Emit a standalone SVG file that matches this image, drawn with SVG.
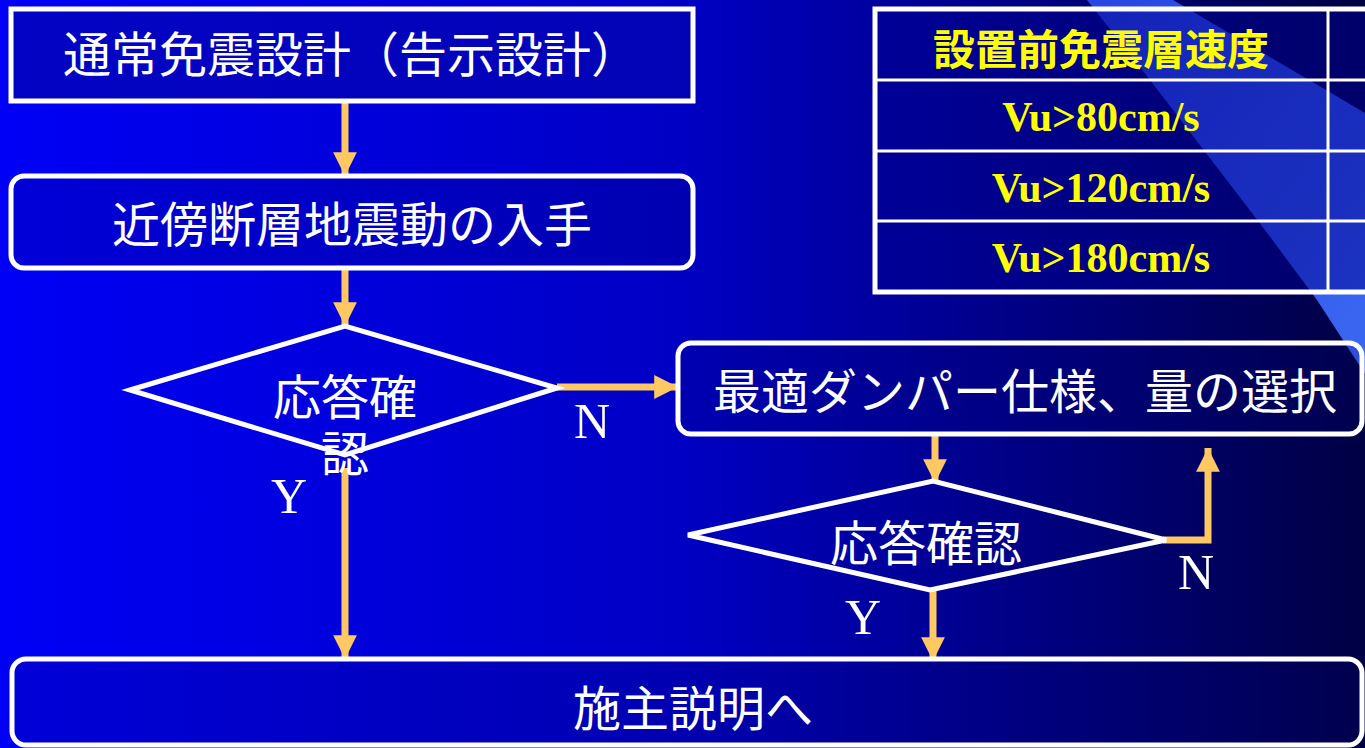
<svg xmlns="http://www.w3.org/2000/svg" width="1365" height="748" viewBox="0 0 1365 748">
<defs>
<linearGradient id="bg" x1="0" y1="0" x2="1" y2="0">
<stop offset="0" stop-color="#0000f6"/>
<stop offset="0.5" stop-color="#0000c4"/>
<stop offset="1" stop-color="#000044"/>
</linearGradient>
<linearGradient id="beam" x1="0" y1="0" x2="1" y2="1">
<stop offset="0" stop-color="#2846e2"/>
<stop offset="1" stop-color="#3a68f2"/>
</linearGradient>
<marker id="ah" viewBox="0 0 10 10" refX="10" refY="5" markerWidth="3.4" markerHeight="3.4" markerUnits="strokeWidth" orient="auto">
<path d="M0,0 L10,5 L0,10 Z" fill="#ffc862"/>
</marker>
<style>
.box{fill:#000070;fill-opacity:0.22;stroke:#ffffff;stroke-width:5}
.dia{fill:none;stroke:#ffffff;stroke-width:5}
.jt{font-family:"Noto Sans CJK JP",sans-serif;font-size:48px;fill:#ffffff;text-anchor:middle;dominant-baseline:central}
.lbl{font-family:"Liberation Serif",serif;font-size:50px;fill:#ffffff;text-anchor:middle}
.th{font-family:"Noto Sans CJK JP",sans-serif;font-size:42px;font-weight:bold;fill:#ffff00;text-anchor:middle;dominant-baseline:central}
.td{font-family:"Liberation Serif",serif;font-size:42px;font-weight:bold;fill:#ffff00;text-anchor:middle}
.con{fill:none;stroke:#ffc862;stroke-width:7}
.tl{stroke:#ffffff;stroke-width:3;fill:none}
</style>
</defs>
<rect x="0" y="0" width="1365" height="748" fill="url(#bg)"/>
<path d="M1087,0 L1173,0 L1365,113 L1365,374 L1317,300 L1265,230 L1150,80 Z" fill="url(#beam)"/>

<g id="table">
<rect x="875" y="9" width="500" height="283" fill="#000090" fill-opacity="0.5" stroke="#ffffff" stroke-width="5"/>
<line class="tl" x1="875" y1="80" x2="1365" y2="80"/>
<line class="tl" x1="875" y1="151" x2="1365" y2="151"/>
<line class="tl" x1="875" y1="221" x2="1365" y2="221"/>
<line class="tl" x1="1328" y1="9" x2="1328" y2="292"/>
<text class="th" x="1101" y="46">設置前免震層速度</text>
<text class="td" x="1101" y="131">Vu&gt;80cm/s</text>
<text class="td" x="1101" y="202">Vu&gt;120cm/s</text>
<text class="td" x="1101" y="272">Vu&gt;180cm/s</text>
</g>

<g id="connectors">
<line class="con" x1="345" y1="101" x2="345" y2="176" marker-end="url(#ah)"/>
<line class="con" x1="345" y1="268" x2="345" y2="326" marker-end="url(#ah)"/>
<line class="con" x1="557" y1="387" x2="678" y2="387" marker-end="url(#ah)"/>
<line class="con" x1="345" y1="468" x2="345" y2="659" marker-end="url(#ah)"/>
<line class="con" x1="935" y1="434" x2="935" y2="483" marker-end="url(#ah)"/>
<polyline class="con" points="1163,540 1208,540 1208,448" marker-end="url(#ah)"/>
<line class="con" x1="933" y1="590" x2="933" y2="661" marker-end="url(#ah)"/>
<text class="lbl" x="592" y="438">N</text>
<text class="lbl" x="289" y="513">Y</text>
<text class="lbl" x="1196" y="589">N</text>
<text class="lbl" x="863" y="634">Y</text>
</g>

<g id="n1">
<rect class="box" x="11" y="9" width="682" height="92" style="fill:#0404b0;fill-opacity:0.7"/>
<text class="jt" x="351" y="51">通常免震設計（告示設計）</text>
</g>
<g id="n2">
<rect class="box" x="11" y="176" width="682" height="92" rx="13"/>
<text class="jt" x="352" y="221">近傍断層地震動の入手</text>
</g>
<g id="d1">
<polygon class="dia" points="130,390 345,326 557,388 345,455"/>
<text class="jt"><tspan x="345" y="394">応答確</tspan><tspan x="345" y="450">認</tspan></text>
</g>
<g id="n3">
<rect class="box" x="678" y="343" width="684" height="91" rx="13"/>
<text class="jt" x="1025" y="388">最適ダンパー仕様、量の選択</text>
</g>
<g id="d2">
<polygon class="dia" points="688,535 933,481 1166,540 930,590"/>
<text class="jt" x="926" y="540">応答確認</text>
</g>
<g id="n4">
<rect class="box" x="12" y="659" width="1350" height="86" rx="14"/>
<text class="jt" x="693" y="705">施主説明へ</text>
</g>
</svg>
